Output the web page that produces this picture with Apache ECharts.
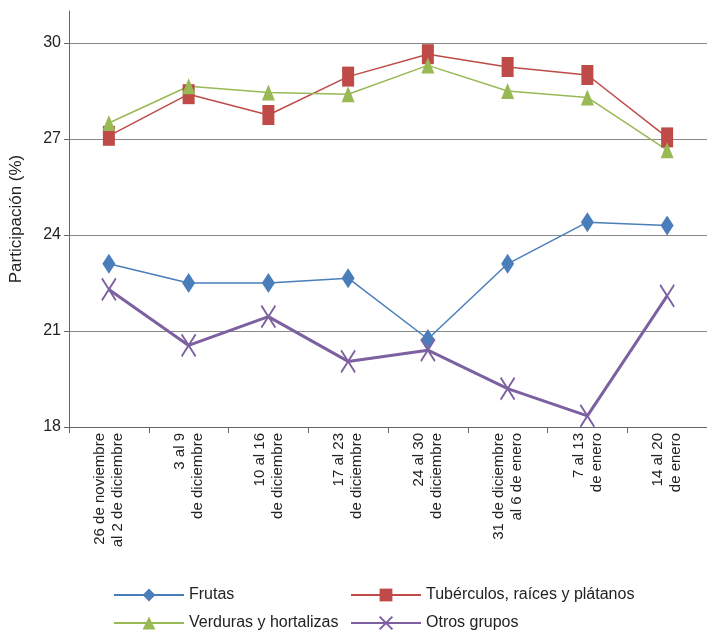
<!DOCTYPE html>
<html lang="es">
<head>
<meta charset="UTF-8">
<title>Participación</title>
<script src="https://cdn.jsdelivr.net/npm/echarts@6/dist/echarts.min.js"></script>
<style>html,body{margin:0;padding:0;background:#fff}</style>
</head>
<body>
<div id="content" style="width:707px;height:637px"></div>
<script>
var categories = ['26 de noviembre\nal 2 de diciembre', '3 al 9\nde diciembre', '10 al 16\nde diciembre', '17 al 23\nde diciembre',
    '24 al 30\nde diciembre', '31 de diciembre\nal 6 de enero', '7 al 13\nde enero', '14 al 20\nde enero'];
var frutas = [23.1, 22.5, 22.5, 22.65, 20.75, 23.1, 24.4, 24.3];
var tuberculos = [27.1, 28.4, 27.75, 28.95, 29.65, 29.25, 29.0, 27.05];
var verduras = [27.5, 28.65, 28.45, 28.4, 29.3, 28.5, 28.3, 26.65];
var otros = [22.3, 20.55, 21.45, 20.05, 20.4, 19.2, 18.35, 22.1];

var myChart = echarts.init(document.getElementById('content'));
var xPath = 'path://M0,0L10,14M10,0L0,14';
var font = 'Liberation Sans';
function mk(name, data, color, symbol, size, width, extra) {
    var s = {
        name: name, type: 'line', data: data, symbol: symbol, symbolSize: size,
        lineStyle: {color: color, width: width},
        itemStyle: {color: color},
        animation: false
    };
    return Object.assign(s, extra || {});
}
var legendText = {fontFamily: font, fontSize: 16, color: '#222'};
var option = {
    textStyle: {fontFamily: font},
    grid: {left: 68, top: 11, width: 646, height: 416},
    xAxis: {
        type: 'category', data: categories,
        axisLine: {lineStyle: {color: '#666'}},
        axisTick: {show: true, length: 6, lineStyle: {color: '#666'}},
        axisLabel: {rotate: 90, interval: 0, fontSize: 15, color: '#222', lineHeight: 18, margin: 6}
    },
    yAxis: {
        type: 'value', min: 18, max: 31, interval: 3,
        name: 'Participación (%)', nameLocation: 'middle', nameGap: 44,
        nameTextStyle: {fontSize: 17, color: '#222'},
        axisLine: {show: true, lineStyle: {color: '#666'}},
        axisTick: {show: true, length: 5, lineStyle: {color: '#666'}},
        axisLabel: {fontSize: 16, color: '#222', showMaxLabel: false},
        splitLine: {showMaxLine: false, lineStyle: {color: '#888'}}
    },
    legend: [
        {data: ['Frutas', 'Verduras y hortalizas'], orient: 'vertical', left: 108, top: 582, itemGap: 12, itemWidth: 70, itemHeight: 16, textStyle: legendText},
        {data: ['Tubérculos, raíces y plátanos', 'Otros grupos'], orient: 'vertical', left: 345, top: 582, itemGap: 12, itemWidth: 70, itemHeight: 16, textStyle: legendText}
    ],
    series: [
        mk('Frutas', frutas, '#4a7ebb', 'diamond', [13, 20], 1.5),
        mk('Tubérculos, raíces y plátanos', tuberculos, '#be4b48', 'rect', [12, 20], 1.5),
        mk('Verduras y hortalizas', verduras, '#98b954', 'triangle', [13, 16], 1.5),
        mk('Otros grupos', otros, '#7d60a0', xPath, [14, 22], 3,
            {itemStyle: {color: '#7d60a0', borderColor: '#7d60a0', borderWidth: 2}})
    ]
};
myChart.setOption(option);
</script>
</body>
</html>
